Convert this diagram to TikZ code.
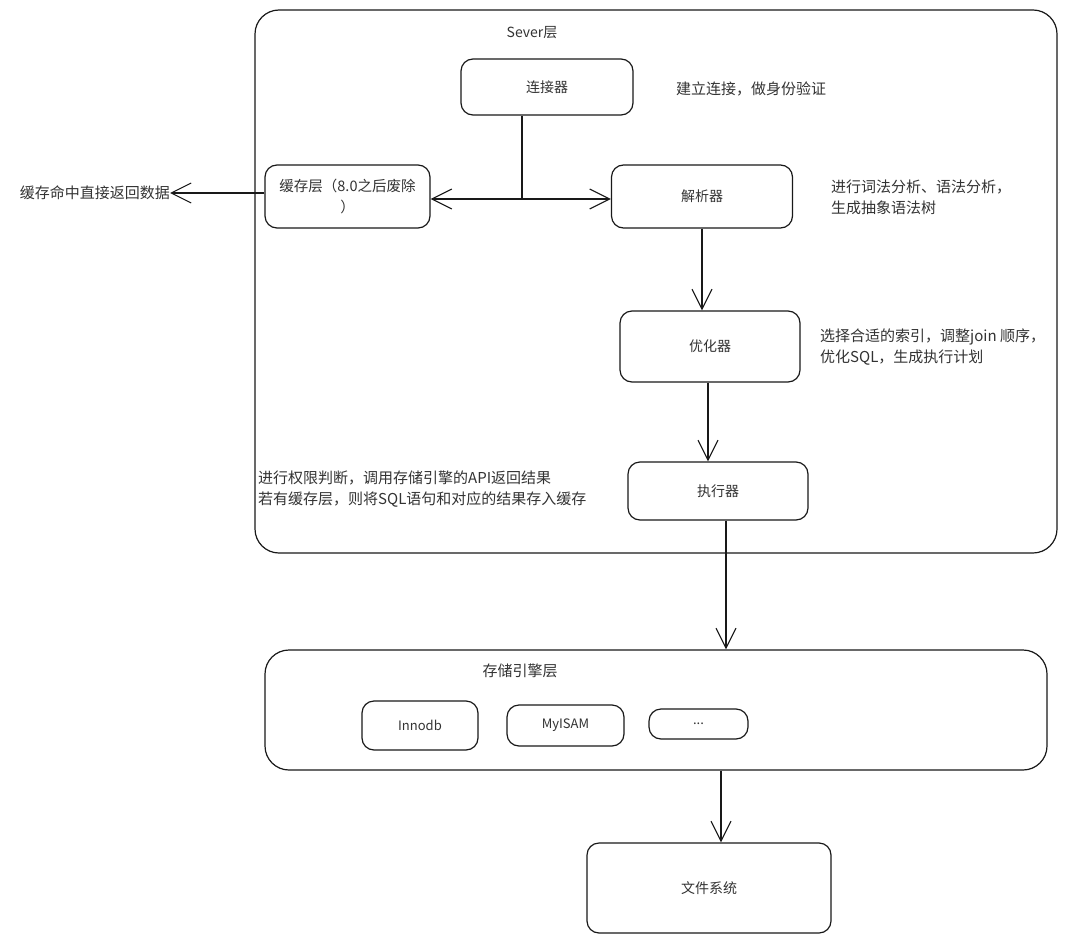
\documentclass[tikz,border=0pt]{standalone}
\usepackage{fontspec}
\setmainfont{Noto Sans CJK SC}
\usetikzlibrary{arrows.meta}
\definecolor{txt}{HTML}{333333}
\tikzset{
  box/.style={draw=black!90, line width=1.2pt, rounded corners=12pt, inner sep=0pt, text=txt, font=\fontsize{14}{20}\selectfont},
  bigbox/.style={draw=black!90, line width=1.2pt, rounded corners=24pt, inner sep=0pt},
  lbl/.style={text=txt, font=\fontsize{15}{21}\selectfont, inner sep=0pt},
  arr/.style={draw=black!90, line width=1.2pt, -{Straight Barb[length=20pt,width=20pt,line width=1.1pt]}},
  ln/.style={draw=black!90, line width=1.2pt}
}
\begin{document}
\begin{tikzpicture}[x=1pt,y=-1pt]
\useasboundingbox (0,0) rectangle (1067,944);
\fill[white] (0,0) rectangle (1067,944);
% server layer
\node[bigbox, minimum width=802pt, minimum height=543pt] (server) at (656,281.5) {};
\node[lbl, font=\fontsize{14}{20}\selectfont] (servertitle) at (532,33) {Sever层};
% boxes
\node[box, minimum width=172pt, minimum height=56pt] (conn) at (547,87) {连接器};
\node[lbl, anchor=west] (conntxt) at (676,89) {建立连接，做身份验证};
\node[box, minimum width=181pt, minimum height=63pt] (parse) at (702,196.5) {解析器};
\node[lbl, anchor=west, align=left] (parsetxt) at (831,197.5) {进行词法分析、语法分析，\\生成抽象语法树};
\node[box, minimum width=165pt, minimum height=63pt, align=center, font=\fontsize{14.5}{21}\selectfont] (cache) at (347.5,196.5) {缓存层（8.0之后废除\\）};
\node[lbl, anchor=east] (hit) at (170,193) {缓存命中直接返回数据};
\node[box, minimum width=180pt, minimum height=71pt] (opt) at (710,346.5) {优化器};
\node[lbl, anchor=west, align=left] (opttxt) at (820,347.5) {选择合适的索引，调整join 顺序，\\优化SQL，生成执行计划};
\node[box, minimum width=180pt, minimum height=58pt] (exec) at (718,491) {执行器};
\node[lbl, anchor=west, align=left] (exectxt) at (258,489) {进行权限判断，调用存储引擎的API返回结果\\若有缓存层，则将SQL语句和对应的结果存入缓存};
% storage layer
\node[bigbox, minimum width=782pt, minimum height=120pt] (store) at (656,710) {};
\node[lbl] (storetitle) at (520,671) {存储引擎层};
\node[box, minimum width=116pt, minimum height=49pt, font=\fontsize{13}{16}\selectfont] (innodb) at (420,725.5) {Innodb};
\node[box, minimum width=117pt, minimum height=41pt, font=\fontsize{13}{16}\selectfont] (myisam) at (565.5,725.5) {MyISAM};
\node[box, minimum width=99pt, minimum height=30pt, font=\fontsize{13}{16}\selectfont] (more) at (698.5,724) {...};
\node[box, minimum width=244pt, minimum height=90pt] (fs) at (709,888) {文件系统};
% connectors
\coordinate (j) at (522,199);
\draw[ln] (conn.south -| j) -- (j);
\draw[arr] (j) -- (cache.east |- j);
\draw[arr] (j) -- (parse.west |- j);
\draw[arr] (cache.west |- hit) -- (hit.east);
\draw[arr] (parse.south) -- (parse.south |- opt.north);
\draw[arr] ([xshift=-2pt]opt.south) -- ([xshift=-2pt]opt.south |- exec.north);
\draw[arr] ([xshift=8pt]exec.south) -- ([xshift=8pt]exec.south |- store.north);
\draw[arr] ([xshift=12pt]fs.north |- store.south) -- ([xshift=12pt]fs.north);
\end{tikzpicture}
\end{document}
